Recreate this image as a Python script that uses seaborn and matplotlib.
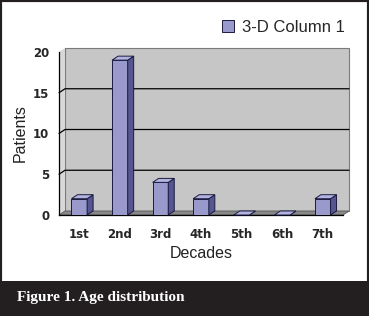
import matplotlib
matplotlib.use('Agg')
import matplotlib.pyplot as plt
import seaborn as sns
import numpy as np
from matplotlib import font_manager
from matplotlib.patches import Polygon, Rectangle, Patch
from matplotlib.transforms import IdentityTransform

# Data
decades = ['1st', '2nd', '3rd', '4th', '5th', '6th', '7th']
patients = [2, 19, 4, 2, 0, 0, 2]
y_ticks = [0, 5, 10, 15, 20]
series_name = '3-D Column 1'

front_color = '#9999cc'
side_color = '#55558f'
top_color = '#b3b3e0'
edge_color = '#1a1a40'

sns.set_style('white')
installed = {f.name for f in font_manager.fontManager.ttflist}
narrow = 'Liberation Sans Narrow' if 'Liberation Sans Narrow' in installed else 'Liberation Sans'
plt.rcParams['font.family'] = [narrow, 'DejaVu Sans']

W, H = 369, 316
fig = plt.figure(figsize=(W / 100, H / 100), dpi=100)
fig.patch.set_facecolor('white')
ax = fig.add_axes([59 / W, 1 - 215 / H, (343 - 59) / W, (215 - 52) / H])
ax.set_facecolor('none')

sns.barplot(x=decades, y=patients, color=front_color, width=0.385,
            edgecolor=edge_color, linewidth=0.7, saturation=1, ax=ax, zorder=3)
ax.set_xlim(-0.5, len(decades) - 0.5)
ax.set_ylim(0, 20)
ax.set_yticks(y_ticks)

bars = list(ax.patches)
dx, dy = 6, 4  # depth of the 3-D effect, in pixels
ident = IdentityTransform()

# back wall, side wall and floor
(x0, y0), (x1, y1) = ax.transAxes.transform([(0, 0), (1, 1)])
ax.add_patch(Polygon([(x0 + dx, y0 + dy), (x1 + dx, y0 + dy), (x1 + dx, y1 + dy), (x0 + dx, y1 + dy)],
                     closed=True, transform=ident, facecolor='#c6c6c6', edgecolor='#7a7a7a',
                     lw=0.8, zorder=0, clip_on=False))
ax.add_patch(Polygon([(x0, y0), (x0 + dx, y0 + dy), (x0 + dx, y1 + dy), (x0, y1)],
                     closed=True, transform=ident, facecolor='#d8d8d8', edgecolor='none',
                     zorder=0.5, clip_on=False))
ax.add_patch(Polygon([(x0, y0), (x1, y0), (x1 + dx, y0 + dy), (x0 + dx, y0 + dy)],
                     closed=True, transform=ident, facecolor='#888888', edgecolor='#555555',
                     lw=0.6, zorder=1, clip_on=False))
for v in y_ticks[1:-1]:
    _, yv = ax.transData.transform((0, v))
    ax.plot([x0, x0 + dx, x1 + dx], [yv, yv + dy, yv + dy], transform=ident,
            color='black', lw=0.9, zorder=1, clip_on=False)

# 3-D sides and tops of the columns
for b in bars:
    (xl, yb), (xr, yt) = ax.transData.transform([(b.get_x(), 0), (b.get_x() + b.get_width(), b.get_height())])
    ax.add_patch(Polygon([(xr, yb), (xr + dx, yb + dy), (xr + dx, yt + dy), (xr, yt)], closed=True,
                         transform=ident, facecolor=side_color, edgecolor=edge_color, lw=0.7,
                         zorder=3, clip_on=False))
    ax.add_patch(Polygon([(xl, yt), (xr, yt), (xr + dx, yt + dy), (xl + dx, yt + dy)], closed=True,
                         transform=ident, facecolor=top_color, edgecolor=edge_color, lw=0.7,
                         zorder=3, clip_on=False))

# axes styling
for s in ['top', 'right']:
    ax.spines[s].set_visible(False)
for s in ['left', 'bottom']:
    ax.spines[s].set_color('black')
    ax.spines[s].set_linewidth(0.9)
    ax.spines[s].set_zorder(2)
ax.set_xticks(np.arange(-0.5, len(decades), 1), minor=True)
ax.tick_params(axis='x', which='major', length=0, pad=9)
ax.tick_params(axis='x', which='minor', length=4, width=0.9, color='black', direction='out')
ax.tick_params(axis='y', length=4, width=0.9, color='black', direction='out', pad=3)
for lab in ax.get_xticklabels() + ax.get_yticklabels():
    lab.set_fontweight('bold')
    lab.set_fontsize(8.5)
    lab.set_family('DejaVu Sans')
ax.set_xlabel('Decades', fontsize=11.5, labelpad=4, color='#222222')
ax.set_ylabel('Patients', fontsize=11.5, labelpad=4, color='#222222')

fig.legend(handles=[Patch(facecolor=front_color, edgecolor=edge_color, lw=0.7, label=series_name)],
           loc='center right', bbox_to_anchor=(352 / W, 1 - 27 / H), frameon=False,
           fontsize=12, handlelength=0.7, handleheight=0.7, handletextpad=0.5, borderaxespad=0)

# caption strip
fig.patches.append(Rectangle((0, 0), 1, (H - 281) / H, transform=fig.transFigure,
                             facecolor='#231f20', edgecolor='none', zorder=5))
fig.text(17 / W, 1 - 297 / H, 'Figure 1. Age distribution', color='white', fontsize=11,
         fontweight='bold', family='Liberation Serif', va='center', ha='left', zorder=6)
fig.patches.append(Rectangle((0, 0), 1, 1, transform=fig.transFigure, facecolor='none',
                             edgecolor='#231f20', lw=3, zorder=6))

fig.savefig('out.png', dpi=100)
